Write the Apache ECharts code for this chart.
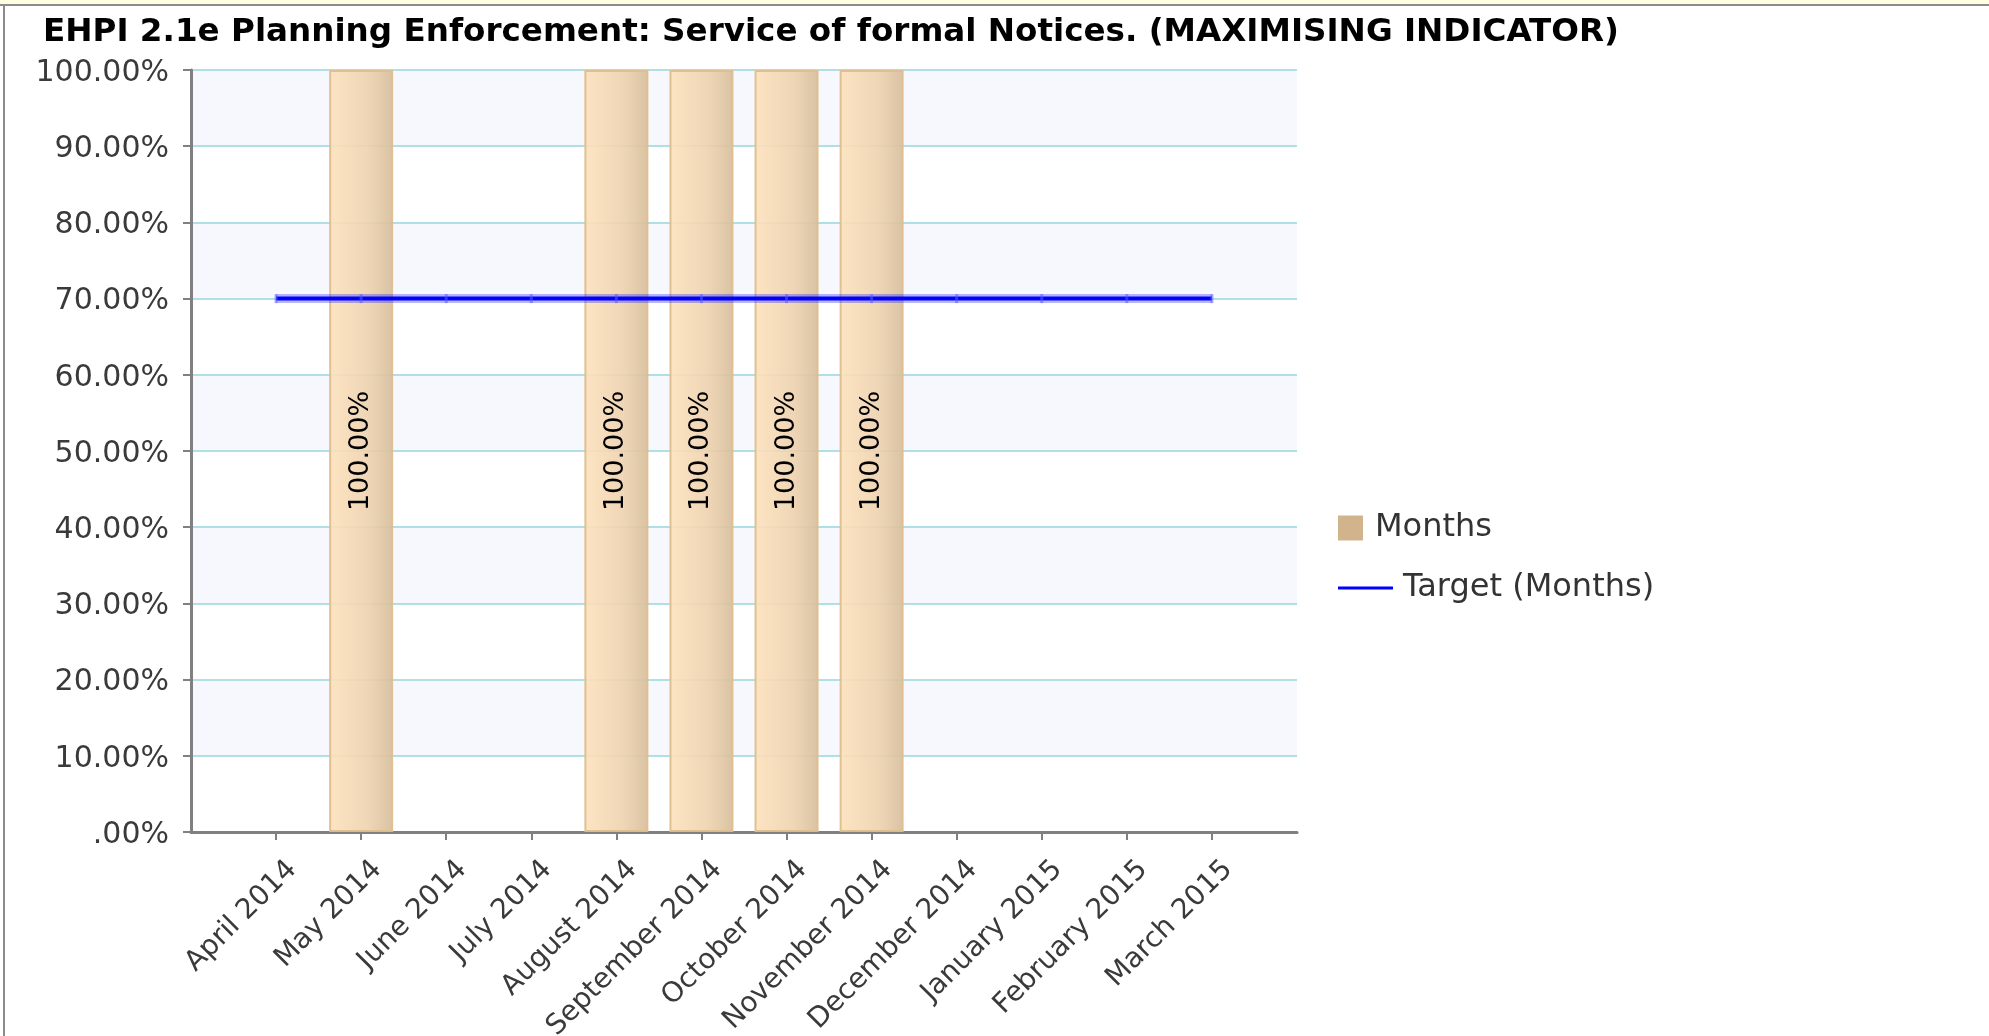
<!DOCTYPE html>
<html><head><meta charset="utf-8">
<script src="https://cdn.jsdelivr.net/npm/echarts@6/dist/echarts.min.js"></script>
<style>
html,body{margin:0;padding:0;background:#fff;overflow:hidden;}
#c{width:1989px;height:1036px;}
#topstrip{position:absolute;left:0;top:0;width:1989px;height:4px;background:#FFFFE1;border-bottom:2px solid #8c8c8c;}
#leftline{position:absolute;left:3px;top:4px;width:2px;height:1032px;background:#8c8c8c;}
</style></head>
<body><div id="c"></div><div id="topstrip"></div><div id="leftline"></div>
<script>
const categories = ['April 2014','May 2014','June 2014','July 2014','August 2014','September 2014','October 2014','November 2014','December 2014','January 2015','February 2015','March 2015'];
const monthsValues = [0,100,0,0,100,100,100,100,0,0,0,0];
const targetValues = [70,70,70,70,70,70,70,70,70,70,70,70];
const yTickLabels = ['.00%','10.00%','20.00%','30.00%','40.00%','50.00%','60.00%','70.00%','80.00%','90.00%','100.00%'];

const axisCats = [''].concat(categories, ['']);
const pad = arr => [null].concat(arr, [null]);
const barData = pad(monthsValues).map(v => (v === 0 ? {value: 0, itemStyle: {borderWidth: 0, opacity: 0}} : v));
const splitColors = yTickLabels.map((t, i) => (i === 0 ? '#EBEBEB' : '#B0E0E6'));

const chart = echarts.init(document.getElementById('c'));
chart.setOption({
  animation: false,
  title: {
    text: 'EHPI 2.1e Planning Enforcement: Service of formal Notices. (MAXIMISING INDICATOR)',
    left: 38, top: 11,
    textStyle: {fontFamily: 'DejaVu Sans', fontWeight: 'bold', fontSize: 32.6, color: '#000'}
  },
  legend: [
    {
      orient: 'vertical', left: 1338, top: 512, padding: 0,
      itemWidth: 25, itemHeight: 25,
      textStyle: {fontFamily: 'DejaVu Sans', fontSize: 32, color: '#333', padding: [0, 0, 0, 7]},
      data: [{name: 'Months', icon: 'rect', itemStyle: {color: '#D2B48C', borderWidth: 0}}]
    },
    {
      orient: 'vertical', left: 1338, top: 572, padding: 0,
      itemWidth: 55, itemHeight: 34,
      textStyle: {fontFamily: 'DejaVu Sans', fontSize: 32, color: '#333', padding: [0, 0, 0, 5]},
      data: [{name: 'Target (Months)', icon: 'path://M0,15.5H55V18.5H0Z', itemStyle: {color: '#0000FF'}, lineStyle: {width: 0, opacity: 0}}]
    }
  ],
  grid: {left: 191, top: 70, right: 692, bottom: 204, containLabel: false, outerBoundsMode: 'none'},
  xAxis: {
    type: 'category',
    data: axisCats,
    boundaryGap: false,
    offset: 3,
    axisLine: {lineStyle: {color: '#808080', width: 3}},
    axisTick: {show: true, length: 8, lineStyle: {color: '#808080', width: 2},
      interval: (i) => i > 0 && i < axisCats.length - 1},
    axisLabel: {interval: 0, rotate: 45, margin: 14,
      formatter: (v) => (v ? '{a|' + v + '}' : ''),
      rich: {a: {fontFamily: 'DejaVu Sans', fontSize: 28, color: '#3a3a3a', padding: [46, 0, 0, 0]}}},
    splitLine: {show: false}
  },
  yAxis: {
    type: 'value', min: 0, max: 100, interval: 10,
    axisLine: {show: true, lineStyle: {color: '#808080', width: 3}},
    axisTick: {show: true, length: 8, lineStyle: {color: '#808080', width: 2}},
    axisLabel: {margin: 22,
      formatter: (v) => '{a|' + yTickLabels[Math.round(v / 10)] + '}',
      rich: {a: {fontFamily: 'DejaVu Sans', fontSize: 30, color: '#3a3a3a', padding: [6, 0, 0, 0]}}},
    splitLine: {show: true, lineStyle: {color: splitColors, width: 2}},
    splitArea: {show: true, areaStyle: {color: ['#FFFFFF', '#F7F8FD']}}
  },
  series: [
    {
      name: 'Months', type: 'bar', data: barData, barWidth: 64,
      itemStyle: {
        color: {type: 'linear', x: 0, y: 0, x2: 1, y2: 0, colorStops: [
          {offset: 0, color: 'rgba(253,225,188,0.9)'}, {offset: 0.6, color: 'rgba(238,210,174,0.9)'}, {offset: 1, color: 'rgba(214,190,156,0.92)'}]},
        borderColor: 'rgba(222,190,142,0.95)', borderWidth: 2
      },
      label: {show: true, position: 'inside', rotate: 90, fontFamily: 'DejaVu Sans', fontSize: 27, color: '#000',
        formatter: (p) => p.value ? p.value.toFixed(2) + '%' : ''}
    },
    {
      name: 'Target halo', type: 'line', data: pad(targetValues), z: 4, silent: true,
      symbol: 'none',
      lineStyle: {color: 'rgba(0,0,255,0.28)', width: 9}
    },
    {
      name: 'Target (Months)', type: 'line', data: pad(targetValues), z: 5,
      symbol: 'rect', symbolSize: [3, 9],
      itemStyle: {color: 'rgba(90,90,255,0.55)'},
      lineStyle: {color: '#0000FF', width: 4}
    }
  ]
});
</script></body></html>
